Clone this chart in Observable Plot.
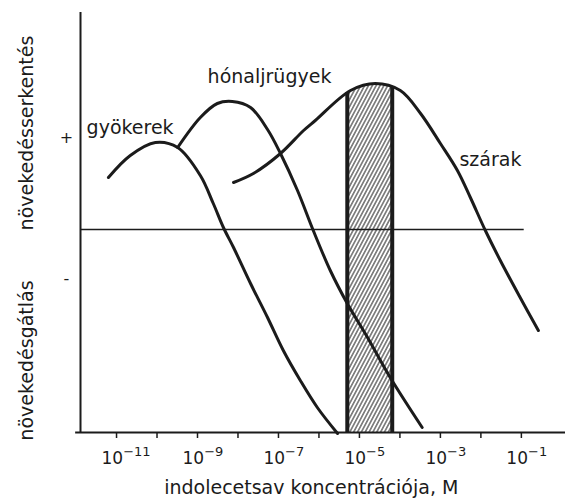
<!DOCTYPE html>
<html><head><meta charset="utf-8">
<script src="https://cdn.jsdelivr.net/npm/d3@7"></script>
<script src="https://cdn.jsdelivr.net/npm/@observablehq/plot@0.6"></script>
<style>body{margin:0;background:#fff}#chart{width:565px;height:499px}</style>
</head><body><div id="chart"></div>
<script>
// Concentrations stored as log10(M); responses in arbitrary units (0 = no effect)
const rootsLogC = [-11.20, -10.66, -10.04, -9.49, -8.93, -8.61, -8.36, -8.11, -7.69, -7.27, -6.88, -6.46, -6.04, -5.54];
const rootsResp = [5.2, 7.4, 8.7, 8.2, 5.4, 2.6, 0.2, -1.8, -5.4, -8.8, -12.1, -15.1, -17.8, -20.4];

const budsLogC = [-9.49, -8.93, -8.51, -8.14, -7.69, -7.27, -6.95, -6.53, -6.14, -5.72, -5.30, -4.80, -4.24, -3.45];
const budsResp = [8.2, 11.2, 12.6, 12.8, 12.2, 10.0, 7.6, 3.9, -0.1, -4.1, -7.4, -10.8, -14.8, -19.8];

const stemsLogC = [-8.11, -7.62, -6.95, -6.38, -6.09, -5.22, -4.61, -3.99, -3.49, -3.00, -2.58, -2.26, -1.89, -1.52, -1.03, -0.58];
const stemsResp = [4.7, 5.6, 7.6, 9.9, 10.9, 13.9, 14.6, 13.9, 11.6, 8.6, 5.9, 3.2, -0.1, -3.1, -6.8, -10.1];

// hatched optimal range for stems
const bandLogC = [-5.30, -4.93, -4.61, -4.19];
const bandTop = [13.7, 14.4, 14.6, 14.2];

const curveNames = ["gyökerek", "hónaljrügyek", "szárak"];
const curveLabelLogC = [-11.74, -8.75, -2.53];
const curveLabelResp = [9.6, 14.7, 6.4];

const signLabels = ["+", "-"];
const signResp = [9.2, -4.9];

const yTitles = ["növekedésserkentés", "növekedésgátlás"];
const yTitleResp = [9.65, -13.1];

const xTitle = "indolecetsav koncentrációja, M";
const tickExps = [-11, -10, -9, -8, -7, -6, -5, -4, -3, -2, -1];
const labelExps = [-11, -9, -7, -5, -3, -1];

const xMinLog = -11.89, xMaxLog = 0.09, yBottom = -20.3, yTop = 21.7;
const zeroLineEndLog = -0.93;

const P = e => 10 ** e;
const series = (xs, ys) => xs.map((e, i) => ({c: P(e), r: ys[i]}));
const roots = series(rootsLogC, rootsResp);
const buds = series(budsLogC, budsResp);
const stems = series(stemsLogC, stemsResp);
const band = series(bandLogC, bandTop);
const curveLabels = curveNames.map((t, i) => ({t, c: P(curveLabelLogC[i]), r: curveLabelResp[i]}));
const signs = signLabels.map((t, i) => ({t, r: signResp[i]}));
const titles = yTitles.map((t, i) => ({t, r: yTitleResp[i]}));

const ink = "#1b1b1b";
const crv = "catmull-rom";
const chart = Plot.plot({
  width: 565, height: 499,
  marginLeft: 80, marginRight: 0, marginTop: 12, marginBottom: 67,
  style: {fontFamily: "DejaVu Sans", background: "#fff", color: ink, overflow: "visible"},
  x: {type: "log", domain: [P(xMinLog), P(xMaxLog)], axis: null, label: null},
  y: {domain: [yBottom, yTop], axis: null, label: null},
  marks: [
    Plot.areaY(band, {x: "c", y1: yBottom, y2: "r", curve: crv, fill: "url(#hatch)"}),
    Plot.ruleX([band[0], band[band.length - 1]], {x: "c", y1: yBottom, y2: "r", stroke: ink, strokeWidth: 4}),
    Plot.ruleY([0], {x1: P(xMinLog), x2: P(zeroLineEndLog), stroke: ink, strokeWidth: 1.3}),
    Plot.ruleX([P(xMinLog)], {y1: yBottom, y2: yTop, stroke: ink, strokeWidth: 2}),
    Plot.ruleY([yBottom], {x1: P(xMinLog - 0.12), x2: P(xMaxLog), stroke: ink, strokeWidth: 2}),
    Plot.axisX({ticks: tickExps.map(P), tickSize: 6, tickFormat: () => "", label: null, stroke: ink, strokeWidth: 1.5}),
    Plot.line(roots, {x: "c", y: "r", curve: crv, stroke: ink, strokeWidth: 3}),
    Plot.line(buds, {x: "c", y: "r", curve: crv, stroke: ink, strokeWidth: 3}),
    Plot.line(stems, {x: "c", y: "r", curve: crv, stroke: ink, strokeWidth: 3}),
    Plot.text(curveLabels, {x: "c", y: "r", text: "t", textAnchor: "start", lineAnchor: "bottom", fontSize: 19, fill: ink}),
    Plot.text(signs, {y: "r", text: "t", frameAnchor: "left", textAnchor: "middle", dx: -14, fontSize: 16, fill: ink}),
    Plot.text(titles, {y: "r", text: "t", frameAnchor: "left", textAnchor: "middle", dx: -54, rotate: -90, fontSize: 19, fill: ink}),
    Plot.text(labelExps, {x: P, text: e => String(e), frameAnchor: "bottom", lineAnchor: "bottom", textAnchor: "start", dy: 31, dx: -15, fontSize: 17, fill: ink}),
    Plot.text([xTitle], {x: P(-6.19), text: d => d, frameAnchor: "bottom", lineAnchor: "bottom", dy: 61, fontSize: 19, fill: ink})
  ]
});

const ns = "http://www.w3.org/2000/svg";
const defs = document.createElementNS(ns, "defs");
defs.innerHTML = '<pattern id="hatch" patternUnits="userSpaceOnUse" width="3.4" height="3.4" patternTransform="rotate(28)"><rect width="3.4" height="3.4" fill="#fff"/><line x1="1.7" y1="-1" x2="1.7" y2="4.4" stroke="#222" stroke-width="1"/></pattern>';
chart.insertBefore(defs, chart.firstChild);

chart.querySelectorAll("text").forEach(t => {
  const s = t.textContent;
  if (/^-\d+$/.test(s)) {
    t.textContent = "10";
    const sup = document.createElementNS(ns, "tspan");
    sup.setAttribute("dy", "-8");
    sup.setAttribute("font-size", "13");
    sup.textContent = s.replace("-", "\u2212");
    t.appendChild(sup);
  }
});

document.getElementById("chart").appendChild(chart);
</script>
</body></html>
